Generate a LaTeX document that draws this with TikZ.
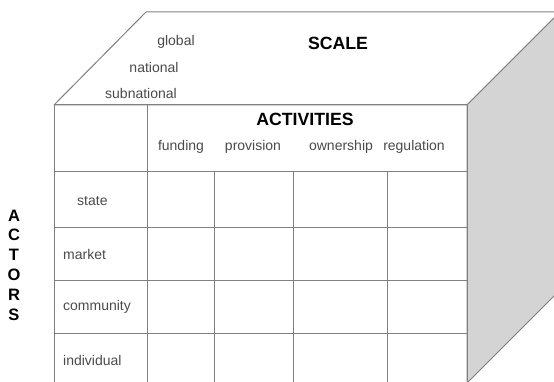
\documentclass[tikz,border=0pt]{standalone}
\usepackage{fontspec}
\setmainfont{Liberation Sans}
\usetikzlibrary{positioning}
\definecolor{facegrey}{HTML}{D4D4D4}
\definecolor{edgegrey}{HTML}{808080}
\definecolor{labelgrey}{HTML}{4A4A4A}
\tikzstyle{edge}=[draw=edgegrey,line width=1pt,line join=round]
\tikzstyle{smalltext}=[text=labelgrey,font=\fontsize{14}{16}\selectfont,inner sep=0pt]
\tikzstyle{headtext}=[font=\bfseries\fontsize{17.7}{20}\selectfont,inner sep=0pt]

\begin{document}
\begin{tikzpicture}[x=1pt,y=-1pt]
\useasboundingbox (0,0) rectangle (554,382);
% cube faces
\filldraw[edge,fill=white] (54,105) -- (146,12) -- (560,12) -- (467,105) -- cycle;
\filldraw[edge,fill=facegrey] (467,105) -- (560,12) -- (560,290) -- (467,383) -- cycle;
\draw[edge] (54,390) -- (54,105) -- (467,105) -- (467,390);
% grid
\draw[edge] (147,105) -- (147,390);
\draw[edge] (54,172) -- (467,172);
\foreach \y in {227,280,333}
  \draw[edge] (54,\y) -- (467,\y);
\foreach \x in {214,293,387}
  \draw[edge] (\x,172) -- (\x,390);

\node[headtext] (scale) at (338,43) {SCALE};
\node[smalltext] (global) at (176,42) {global};
\node[smalltext] (national) at (154,67) {national};
\node[smalltext] (subnational) at (141,93) {subnational};

\node[headtext] (activities) at (305,119) {ACTIVITIES};
\foreach \name/\x in {funding/181,provision/253,ownership/341,regulation/414}
  \node[smalltext] (\name) at (\x,147) {\name};

\node[smalltext,anchor=west] (state) at (77,201) {state};
\foreach \name/\y in {market/254,community/307,individual/360}
  \node[smalltext,anchor=west] (\name) at (63,\y) {\name};

\node[headtext,align=center,font=\bfseries\fontsize{16.5}{19.8}\selectfont] (actors) at (14,265) {A\\C\\T\\O\\R\\S};
\end{tikzpicture}
\end{document}
